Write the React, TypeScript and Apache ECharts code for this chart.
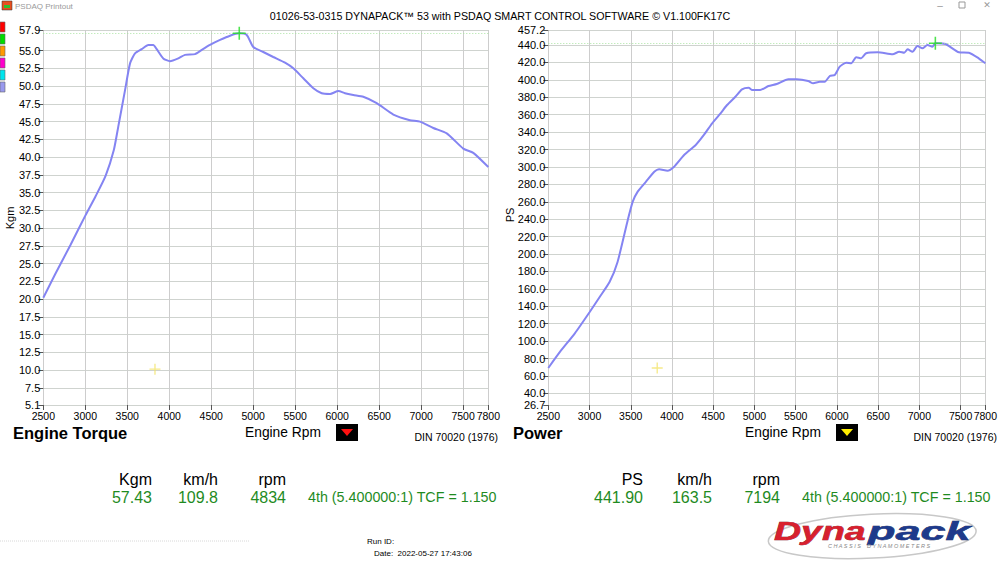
import React, { useEffect, useRef } from "react";
import * as echarts from "echarts";

const FONT = 'Arial, "Liberation Sans", sans-serif';

const titleText = "01026-53-0315 DYNAPACK\u2122 53 with PSDAQ SMART CONTROL SOFTWARE \u00a9 V1.100FK17C";

const rpmTicks = [2500, 3000, 3500, 4000, 4500, 5000, 5500, 6000, 6500, 7000, 7500, 7800];
const torqueTicks = [5.1, 7.5, 10, 12.5, 15, 17.5, 20, 22.5, 25, 27.5, 30, 32.5, 35, 37.5, 40, 42.5, 45, 47.5, 50, 52.5, 55, 57.9];
const powerTicks = [26.7, 40, 60, 80, 100, 120, 140, 160, 180, 200, 220, 240, 260, 280, 300, 320, 340, 360, 380, 400, 420, 440, 457.2];

const torqueRpm = [2500, 2641, 2822, 3002, 3123, 3243, 3340, 3393, 3473, 3533, 3592, 3672, 3751, 3810, 3851, 3929, 4009, 4108, 4188, 4307, 4387, 4485, 4605, 4724, 4834, 4923, 5001, 5120, 5239, 5379, 5478, 5597, 5716, 5816, 5915, 6014, 6093, 6192, 6311, 6471, 6669, 6867, 6987, 7145, 7305, 7502, 7621, 7800];
const torqueVal = [20.2, 23.5, 27.6, 31.8, 34.5, 37.4, 41.0, 44.3, 49.4, 53.2, 54.6, 55.2, 55.8, 55.8, 55.2, 53.9, 53.5, 53.9, 54.4, 54.5, 55.1, 55.8, 56.5, 57.1, 57.43, 57.2, 55.5, 54.8, 54.1, 53.3, 52.5, 51.1, 49.7, 49.0, 48.9, 49.3, 49.0, 48.75, 48.5, 47.6, 46.0, 45.2, 45.0, 44.1, 43.35, 41.2, 40.6, 38.6];

const powerRpm = [2500, 2641, 2822, 3002, 3123, 3243, 3340, 3464, 3524, 3584, 3685, 3785, 3845, 3945, 4026, 4147, 4288, 4387, 4487, 4589, 4668, 4769, 4849, 4930, 4969, 5070, 5170, 5270, 5411, 5511, 5652, 5712, 5793, 5853, 5914, 5974, 6034, 6114, 6174, 6234, 6294, 6355, 6495, 6676, 6756, 6817, 6857, 6917, 6977, 7037, 7098, 7158, 7194, 7318, 7480, 7600, 7720, 7800];
const powerVal = [69.2, 87.6, 109.0, 133.5, 150.7, 167.9, 190.9, 239.1, 260.1, 271.6, 283.1, 294.5, 297.3, 295.7, 300.3, 313.7, 325.2, 336.7, 350.1, 361.6, 371.1, 380.6, 389.1, 391.0, 388.3, 388.3, 392.9, 395.2, 400.6, 400.6, 398.7, 396.0, 397.8, 397.8, 404.4, 405.5, 415.1, 419.7, 419.0, 425.9, 424.7, 430.5, 431.6, 429.3, 432.3, 431.1, 435.0, 432.3, 438.8, 436.2, 440.0, 438.0, 441.9, 441.1, 431.6, 431.1, 424.7, 419.0];

const torquePeak = [4834, 57.43];
const powerPeak = [7194, 441.9];
const torqueCursor = [3830, 10.15];
const powerCursor = [3821, 69.2];

const torqueHeaders = ["Kgm", "km/h", "rpm"];
const torqueReadout = ["57.43", "109.8", "4834"];
const powerHeaders = ["PS", "km/h", "rpm"];
const powerReadout = ["441.90", "163.5", "7194"];
const gearText = "4th (5.400000:1) TCF = 1.150";

const legendColors = ["#ff0000", "#00dd00", "#ff9900", "#ff00cc", "#00e5ee", "#9999ee"];

const CROSS = "path://M4.4,0H5.6V10H4.4ZM0,4.4H10V5.6H0Z";
const LINE_COLOR = "#8484f2";
const GREEN_TXT = "#1f8b1f";

function xAxisDef(gridIndex: number) {
  return {
    type: "value",
    gridIndex,
    min: 2500,
    max: 7800,
    axisLine: { show: false },
    axisTick: { show: true, customValues: rpmTicks, length: 5, lineStyle: { color: "#555" } },
    axisLabel: {
      customValues: rpmTicks,
      color: "#000",
      fontSize: 10.5,
      fontFamily: FONT,
      margin: 5,
      formatter: (v: number) => String(Math.round(v)),
    },
    splitLine: { show: true, lineStyle: { color: "#cdcdcd", width: 1 } },
  };
}

function yAxisDef(gridIndex: number, min: number, max: number, ticks: number[]) {
  return {
    type: "value",
    gridIndex,
    min,
    max,
    axisLine: { show: false },
    axisTick: { show: true, customValues: ticks, length: 5, lineStyle: { color: "#555" } },
    axisLabel: {
      customValues: ticks,
      color: "#000",
      fontSize: 11,
      fontFamily: FONT,
      margin: 3,
      formatter: (v: number) => v.toFixed(1),
    },
    splitLine: { show: true, lineStyle: { color: "#cfd3cf", width: 1 } },
  };
}

function txt(x: number, y: number, text: string, size: number, opts: any = {}) {
  return {
    type: "text",
    x,
    y,
    silent: true,
    rotation: opts.rotation || 0,
    style: {
      text,
      fill: opts.color || "#000",
      font: `${opts.italic ? "italic " : ""}${opts.weight || "normal"} ${size}px ${opts.family || FONT}`,
      textAlign: opts.align || "left",
      textVerticalAlign: "middle",
    },
  };
}

function triBox(x: number, color: string) {
  return [
    { type: "rect", shape: { x, y: 424, width: 22, height: 17 }, style: { fill: "#000" } },
    { type: "polygon", shape: { points: [[x + 5, 429], [x + 17, 429], [x + 11, 436]] }, style: { fill: color } },
  ];
}

export default function App() {
  const ref = useRef<HTMLDivElement>(null);
  useEffect(() => {
    const chart = echarts.init(ref.current!, null, { renderer: "svg" });

    const graphics: any[] = [];
    // window chrome
    graphics.push({ type: "rect", shape: { x: 2, y: 1, width: 10, height: 9 }, style: { fill: "#e85020", stroke: "#333", lineWidth: 0.5 } });
    graphics.push({ type: "rect", shape: { x: 4, y: 5, width: 6, height: 3 }, style: { fill: "#30c030" } });
    graphics.push(txt(15, 6, "PSDAQ Printout", 8, { color: "#9a9a9a" }));
    graphics.push(txt(940, 5, "\u2013", 10, { color: "#999", align: "center" }));
    graphics.push({ type: "rect", shape: { x: 959, y: 2, width: 6, height: 6 }, style: { fill: "none", stroke: "#999", lineWidth: 1 } });
    graphics.push(txt(987, 5, "\u2715", 9, { color: "#999", align: "center", family: "DejaVu Sans" }));
    // title
    graphics.push(txt(500, 16, titleText, 10.7, { align: "center" }));
    // legend squares
    legendColors.forEach((c, i) => {
      graphics.push({ type: "rect", shape: { x: 0, y: 22 + i * 12, width: 5, height: 10 }, style: { fill: c, stroke: "#666", lineWidth: 0.6 } });
    });
    // axis names
    graphics.push(txt(10, 218, "Kgm", 11, { rotation: Math.PI / 2, align: "center" }));
    graphics.push(txt(510, 215, "PS", 11, { rotation: Math.PI / 2, align: "center" }));
    // bottom labels
    graphics.push(txt(13, 433, "Engine Torque", 16.5, { weight: "bold" }));
    graphics.push(txt(245, 432, "Engine Rpm", 13.8));
    graphics.push(...triBox(336, "#ff1010"));
    graphics.push(txt(498, 437, "DIN 70020 (1976)", 10.5, { align: "right" }));
    graphics.push(txt(513, 433, "Power", 16.5, { weight: "bold" }));
    graphics.push(txt(745, 432, "Engine Rpm", 13.8));
    graphics.push(...triBox(836, "#ffee00"));
    graphics.push(txt(997, 437, "DIN 70020 (1976)", 10.5, { align: "right" }));
    // readouts
    const lxs = [152, 218, 286];
    const rxs = [643, 712, 780];
    torqueHeaders.forEach((h, i) => graphics.push(txt(lxs[i], 479, h, 16, { align: "right" })));
    torqueReadout.forEach((v, i) => graphics.push(txt(lxs[i], 497, v, 16, { align: "right", color: GREEN_TXT })));
    graphics.push(txt(308, 497, gearText, 14.3, { color: GREEN_TXT }));
    powerHeaders.forEach((h, i) => graphics.push(txt(rxs[i], 479, h, 16, { align: "right" })));
    powerReadout.forEach((v, i) => graphics.push(txt(rxs[i], 497, v, 16, { align: "right", color: GREEN_TXT })));
    graphics.push(txt(802, 497, gearText, 14.3, { color: GREEN_TXT }));
    // footer
    graphics.push({ type: "line", shape: { x1: 0, y1: 541, x2: 250, y2: 541 }, style: { stroke: "#d8d8d8", lineWidth: 1, lineDash: [1, 1] } });
    graphics.push(txt(367, 541, "Run ID:", 8));
    graphics.push(txt(374, 553, "Date:  2022-05-27 17:43:06", 8));
    // logo
    graphics.push({ type: "ellipse", shape: { cx: 872, cy: 536, rx: 104, ry: 22 }, rotation: 0.05, originX: 872, originY: 536, style: { fill: "none", stroke: "#c8c8c8", lineWidth: 1.5 } });
    graphics.push({
      type: "text", x: 774, y: 531, scaleX: 1.5, scaleY: 1, silent: true,
      style: { text: "Dyna", fill: "#d8202e", font: `italic 900 25px ${FONT}`, textVerticalAlign: "middle", stroke: "#7a0010", lineWidth: 0.5 },
    });
    graphics.push({
      type: "text", x: 868, y: 531, scaleX: 1.8, scaleY: 1, silent: true,
      style: { text: "pack", fill: "#1d3a8c", font: `italic 900 25px ${FONT}`, textVerticalAlign: "middle", stroke: "#0b1a50", lineWidth: 0.5 },
    });
    graphics.push(txt(828, 546, "C H A S S I S    D Y N A M O M E T E R S", 5.5, { color: "#888", italic: true }));

    const option: any = {
      animation: false,
      backgroundColor: "#ffffff",
      textStyle: { fontFamily: FONT },
      grid: [
        { left: 43.3, top: 30, width: 445, height: 375, containLabel: false },
        { left: 548.3, top: 30, width: 440, height: 375, containLabel: false },
      ],
      xAxis: [xAxisDef(0), xAxisDef(1)],
      yAxis: [yAxisDef(0, 5.1, 57.9, torqueTicks), yAxisDef(1, 26.7, 457.2, powerTicks)],
      series: [
        {
          type: "line",
          xAxisIndex: 0,
          yAxisIndex: 0,
          data: torqueRpm.map((r, i) => [r, torqueVal[i]]),
          showSymbol: false,
          smooth: 0.2,
          lineStyle: { color: LINE_COLOR, width: 2 },
          markLine: {
            silent: true,
            symbol: "none",
            label: { show: false },
            lineStyle: { color: "#a8e4a0", type: [1, 2], width: 1 },
            data: [{ yAxis: torquePeak[1] }],
          },
        },
        {
          type: "line",
          xAxisIndex: 1,
          yAxisIndex: 1,
          data: powerRpm.map((r, i) => [r, powerVal[i]]),
          showSymbol: false,
          smooth: 0.2,
          lineStyle: { color: LINE_COLOR, width: 2 },
          markLine: {
            silent: true,
            symbol: "none",
            label: { show: false },
            lineStyle: { color: "#a8e4a0", type: [1, 2], width: 1 },
            data: [{ yAxis: powerPeak[1] }],
          },
        },
        {
          type: "scatter", xAxisIndex: 0, yAxisIndex: 0, symbol: CROSS, symbolSize: 13,
          itemStyle: { color: "#22dd22" }, data: [torquePeak], z: 5,
        },
        {
          type: "scatter", xAxisIndex: 1, yAxisIndex: 1, symbol: CROSS, symbolSize: 13,
          itemStyle: { color: "#22dd22" }, data: [powerPeak], z: 5,
        },
        {
          type: "scatter", xAxisIndex: 0, yAxisIndex: 0, symbol: CROSS, symbolSize: 11,
          itemStyle: { color: "#f2e46a" }, data: [torqueCursor], z: 5,
        },
        {
          type: "scatter", xAxisIndex: 1, yAxisIndex: 1, symbol: CROSS, symbolSize: 11,
          itemStyle: { color: "#f2e46a" }, data: [powerCursor], z: 5,
        },
      ],
      graphic: graphics,
    };
    chart.setOption(option);
    return () => chart.dispose();
  }, []);
  return (
    <div
      ref={ref}
      style={{ position: "fixed", left: 0, top: 0, width: 1000, height: 562, background: "#fff" }}
    />
  );
}
